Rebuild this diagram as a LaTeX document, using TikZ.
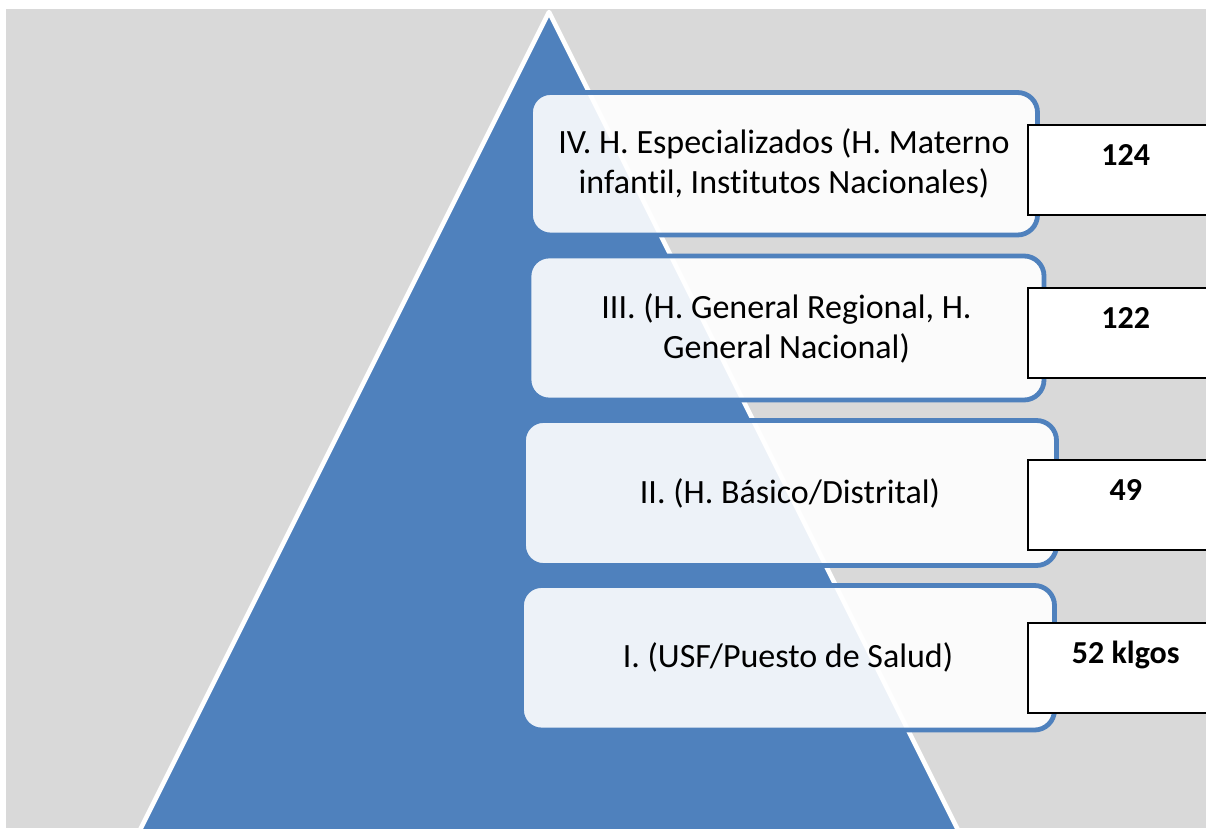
\documentclass[tikz,border=0pt]{standalone}
\usepackage{fontspec}
\setmainfont[Ligatures=NoCommon]{Carlito}
\definecolor{bggray}{HTML}{D9D9D9}
\definecolor{pyrblue}{HTML}{4F81BD}
\begin{document}
\begin{tikzpicture}[x=1pt,y=-1pt,
  lvlbox/.style={draw=pyrblue, line width=4.8pt, fill=white, fill opacity=0.9, text opacity=1,
    rounded corners=20pt, align=center, inner sep=0pt,
    font=\fontsize{34}{40}\selectfont, text=black},
  numbox/.style={draw=black, line width=1.5pt, fill=white, anchor=north west,
    minimum width=196pt, inner xsep=0pt, inner ysep=0pt, text height=41pt, text depth=49pt,
    font=\fontsize{32}{38}\selectfont\bfseries, text=black}]
\useasboundingbox (0,0) rectangle (1206,830);
\clip (0,0) rectangle (1206,830);
\fill[white] (0,0) rectangle (1206,830);
\fill[bggray] (6,9) rectangle (1206,828);
\begin{scope}
  \clip (6,9) rectangle (1206,828);
  \draw[white, line width=4.5pt, fill=pyrblue, line join=round]
    (549,12) -- (117,876) -- (981,876) -- cycle;
\end{scope}
\node[lvlbox, minimum width=507pt, minimum height=142.5pt] (b4) at (784,163.75)
  {IV. H. Especializados (H. Materno\\infantil, Institutos Nacionales)};
\node[lvlbox, minimum width=515pt, minimum height=144pt] (b3) at (786.5,328)
  {III. (H. General Regional, H.\\General Nacional)};
\node[lvlbox, minimum width=533pt, minimum height=145pt] (b2) at (790,493)
  {II. (H. Básico/Distrital)};
\node[lvlbox, minimum width=533pt, minimum height=144.5pt] (b1) at (788,657.75)
  {I. (USF/Puesto de Salud)};
\node[numbox] (n4) at (1027,124) {124};
\node[numbox] (n3) at (1027,287) {122};
\node[numbox] (n2) at (1027,459) {49};
\node[numbox] (n1) at (1027,622) {52 klgos};
\end{tikzpicture}
\end{document}
